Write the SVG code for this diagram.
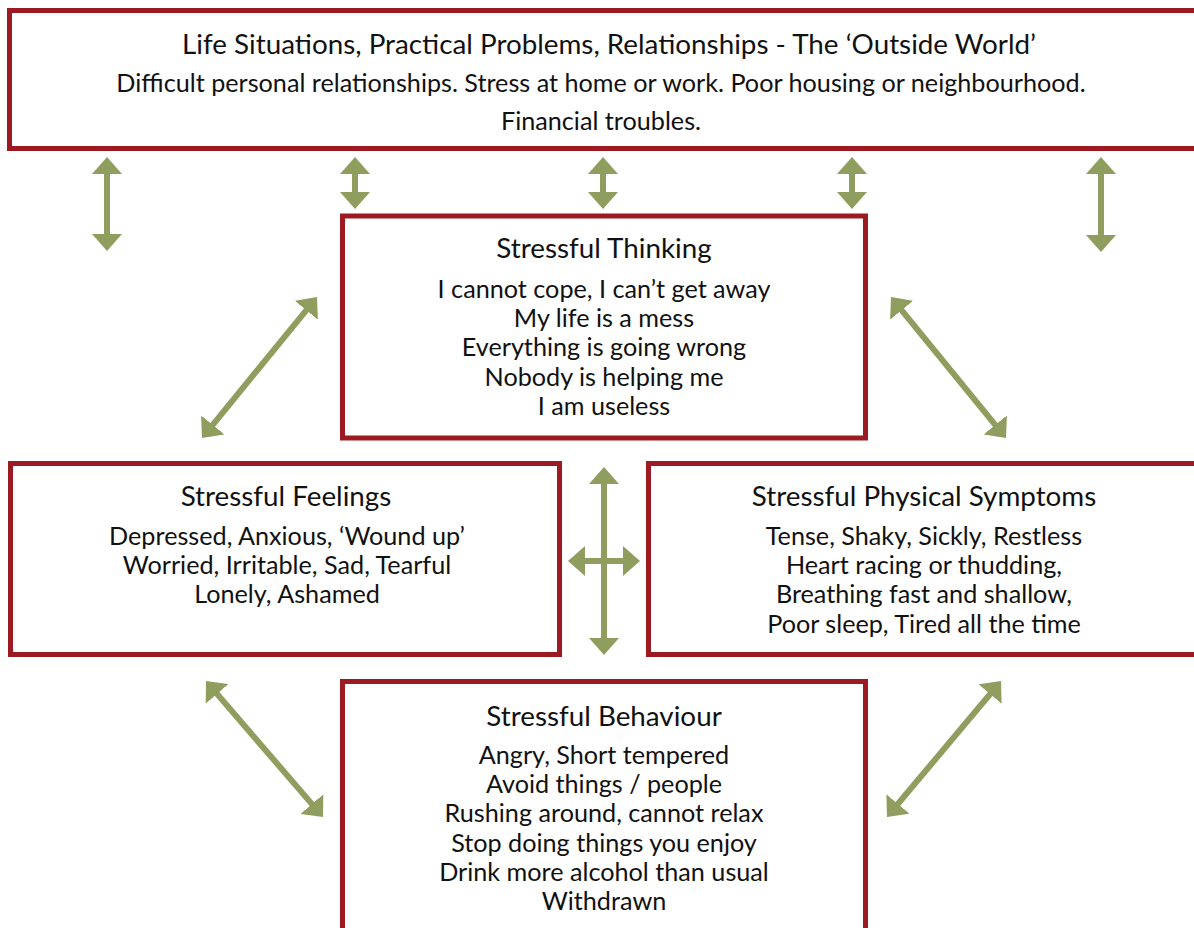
<svg xmlns="http://www.w3.org/2000/svg" width="1194" height="928" viewBox="0 0 1194 928">
<style>
.box{fill:#fff;stroke:#9c1a22;stroke-width:5}
.t{font-family:Lato,"Open Sans","Liberation Sans",sans-serif;font-size:25.2px;fill:#111;text-anchor:middle}
.h{font-size:27.8px}
.a{stroke:#8f9e5e;stroke-width:6;fill:none;marker-start:url(#h);marker-end:url(#h)}
</style>
<defs>
<marker id="h" viewBox="0 0 17 30" refX="7" refY="15" markerWidth="17" markerHeight="30" markerUnits="userSpaceOnUse" orient="auto-start-reverse">
<path d="M0,0 L17,15 L0,30 z" fill="#8f9e5e"/>
</marker>
</defs>
<rect width="1194" height="928" fill="#fff"/>
<g id="outside">
<rect class="box" x="9.5" y="10.5" width="1200" height="138"/>
<text class="t h" x="609" y="54">Life Situations, Practical Problems, Relationships - The ‘Outside World’</text>
<text class="t" x="601" y="92">Difficult personal relationships. Stress at home or work. Poor housing or neighbourhood.</text>
<text class="t" x="601" y="130">Financial troubles.</text>
</g>
<g id="thinking">
<rect class="box" x="342.5" y="216" width="523" height="222"/>
<text class="t h" x="604" y="258">Stressful Thinking</text>
<text class="t" x="604" y="298">I cannot cope, I can’t get away</text>
<text class="t" x="604" y="327">My life is a mess</text>
<text class="t" x="604" y="356">Everything is going wrong</text>
<text class="t" x="604" y="386">Nobody is helping me</text>
<text class="t" x="604" y="415">I am useless</text>
</g>
<g id="feelings">
<rect class="box" x="10.5" y="463.5" width="549" height="191"/>
<text class="t h" x="286" y="506">Stressful Feelings</text>
<text class="t" x="287" y="545">Depressed, Anxious, ‘Wound up’</text>
<text class="t" x="287" y="574">Worried, Irritable, Sad, Tearful</text>
<text class="t" x="287" y="603">Lonely, Ashamed</text>
</g>
<g id="physical">
<rect class="box" x="648.5" y="463.5" width="560" height="191"/>
<text class="t h" x="924" y="506">Stressful Physical Symptoms</text>
<text class="t" x="924" y="545">Tense, Shaky, Sickly, Restless</text>
<text class="t" x="924" y="574">Heart racing or thudding,</text>
<text class="t" x="924" y="603">Breathing fast and shallow,</text>
<text class="t" x="924" y="633">Poor sleep, Tired all the time</text>
</g>
<g id="behaviour">
<rect class="box" x="342.5" y="681.5" width="523" height="260"/>
<text class="t h" x="604" y="726">Stressful Behaviour</text>
<text class="t" x="604" y="764">Angry, Short tempered</text>
<text class="t" x="604" y="793">Avoid things / people</text>
<text class="t" x="604" y="822">Rushing around, cannot relax</text>
<text class="t" x="604" y="852">Stop doing things you enjoy</text>
<text class="t" x="604" y="881">Drink more alcohol than usual</text>
<text class="t" x="604" y="910">Withdrawn</text>
</g>
<g id="connectors">
<line class="a" x1="107" y1="167" x2="107" y2="241"/>
<line class="a" x1="355" y1="167" x2="355" y2="199"/>
<line class="a" x1="603" y1="167" x2="603" y2="199"/>
<line class="a" x1="852" y1="167" x2="852" y2="199"/>
<line class="a" x1="1101" y1="167" x2="1101" y2="242"/>
<line class="a" x1="208.3" y1="430.3" x2="310.7" y2="304.8"/>
<line class="a" x1="897.3" y1="304.8" x2="999.7" y2="430.3"/>
<line class="a" x1="604" y1="477" x2="604" y2="645"/>
<line class="a" x1="578" y1="561" x2="630" y2="561"/>
<line class="a" x1="212.5" y1="688.6" x2="316.5" y2="809.4"/>
<line class="a" x1="994.6" y1="688.7" x2="893.4" y2="809.3"/>
</g>
</svg>
